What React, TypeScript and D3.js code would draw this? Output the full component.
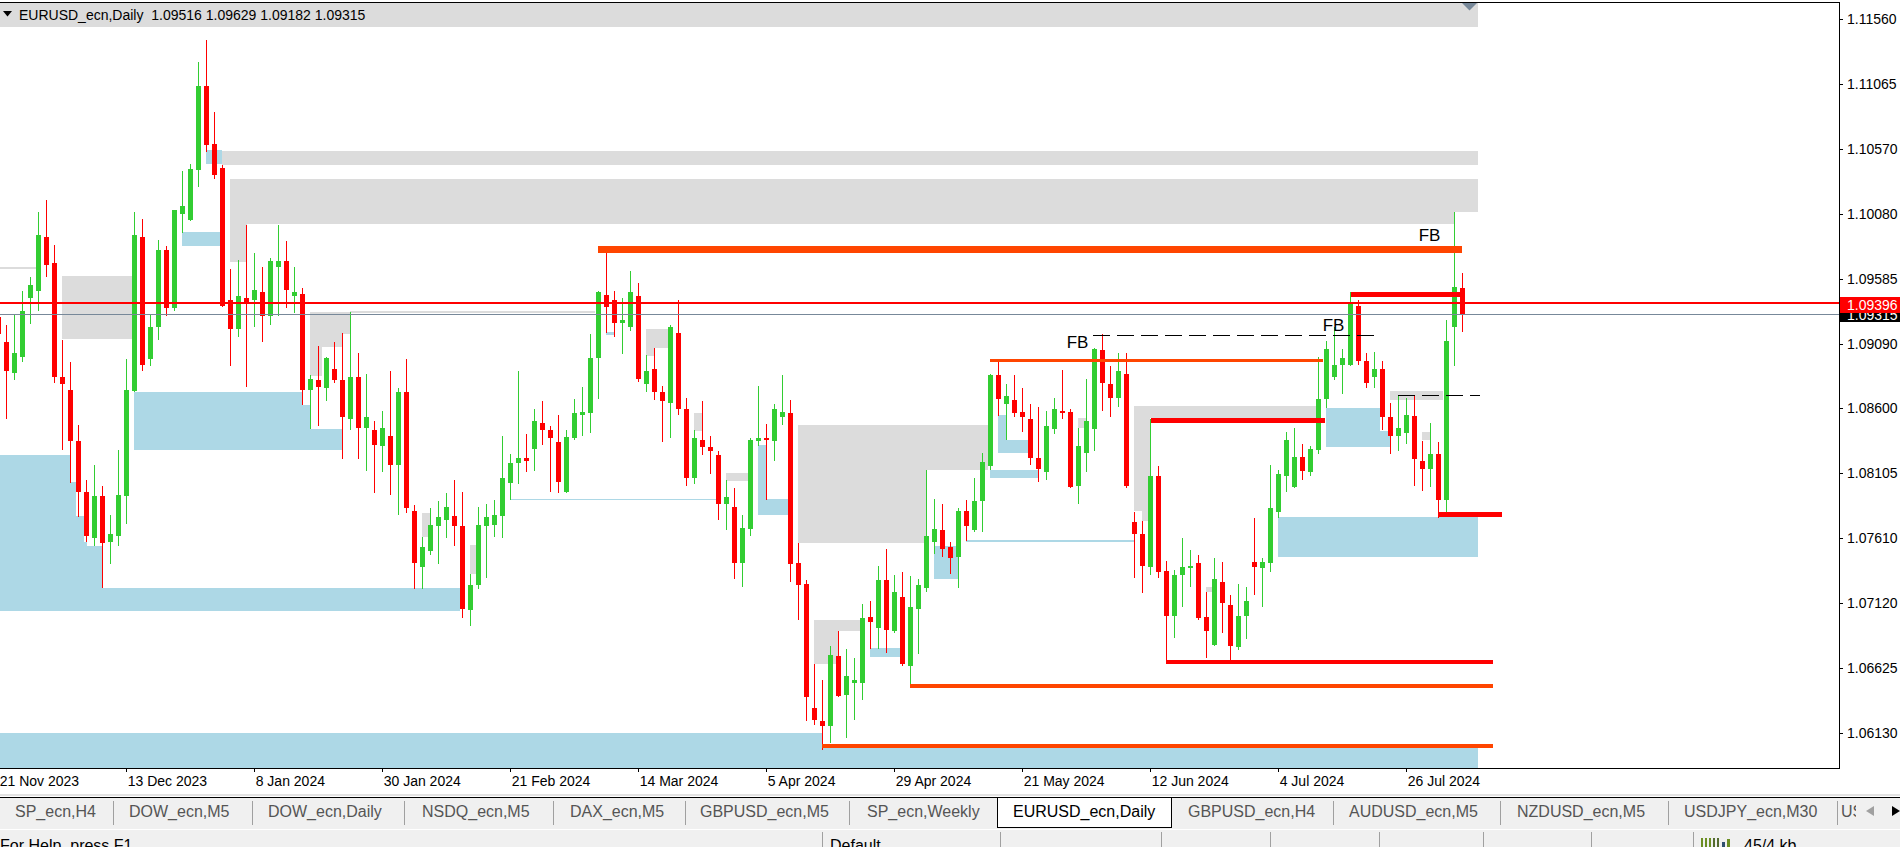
import React from 'react';
import * as d3 from 'd3';

// EURUSD_ecn, Daily. bar -1 = 21 Nov 2023 ... bar 182 = 6 Aug 2024
const FIRST_BAR = -1;

const opens = [
  1.0929, 1.0910, 1.0887, 1.0899, 1.0944, 1.0949, 1.0990, 1.0970, 1.0884, 1.0874,
  1.0835, 1.0796, 1.0761, 1.0793, 1.0758, 1.0763, 1.0793, 1.0873, 1.0990, 1.0897,
  1.0922, 1.0980, 1.0936, 1.1008, 1.1003, 1.1041, 1.1105, 1.1061, 1.1043, 1.0942,
  1.0920, 1.0944, 1.0942, 1.0948, 1.0930, 1.0967, 1.0972, 1.0945, 1.0947, 1.0874,
  1.0881, 1.0875, 1.0890, 1.0881, 1.0852, 1.0884, 1.0845, 1.0843, 1.0831, 1.0839,
  1.0817, 1.0872, 1.0782, 1.0739, 1.0751, 1.0770, 1.0775, 1.0778, 1.0770, 1.0706,
  1.0725, 1.0770, 1.0771, 1.0778, 1.0803, 1.0818, 1.0822, 1.0829, 1.0849, 1.0843,
  1.0834, 1.0796, 1.0837, 1.0855, 1.0856, 1.0898, 1.0946, 1.0942, 1.0925, 1.0922,
  1.0945, 1.0878, 1.0890, 1.0872, 1.0864, 1.0917, 1.0859, 1.0807, 1.0836, 1.0830,
  1.0824, 1.0787, 1.0785, 1.0742, 1.0768, 1.0835, 1.0837, 1.0835, 1.0853, 1.0856,
  1.0742, 1.0726, 1.0632, 1.0622, 1.0618, 1.0671, 1.0642, 1.0651, 1.0651, 1.0701,
  1.0693, 1.0729, 1.0690, 1.0716, 1.0664, 1.0707, 1.0723, 1.0758, 1.0767, 1.0754,
  1.0747, 1.0782, 1.0767, 1.0789, 1.0816, 1.0885, 1.0863, 1.0866, 1.0857, 1.0852,
  1.0822, 1.0811, 1.0844, 1.0858, 1.0857, 1.0801, 1.0826, 1.0844, 1.0904, 1.0878,
  1.0868, 1.0886, 1.0773, 1.0764, 1.0739, 1.0808, 1.0736, 1.0702, 1.0733, 1.0738,
  1.0742, 1.0701, 1.0680, 1.0728, 1.0710, 1.0678, 1.0702, 1.0743, 1.0738, 1.0742,
  1.0781, 1.0808, 1.0800, 1.0823, 1.0811, 1.0828, 1.0867, 1.0884, 1.0893, 1.0893,
  1.0938, 1.0896, 1.0884, 1.0890, 1.0853, 1.0839, 1.0841, 1.0854, 1.0820, 1.0814,
  1.0825, 1.0790, 1.0922, 1.09516,
];
const highs = [
  1.0932, 1.0923, 1.0931, 1.0949, 1.0960, 1.1009, 1.1018, 1.0984, 1.0912, 1.0895,
  1.0847, 1.0805, 1.0817, 1.0801, 1.0779, 1.0828, 1.0897, 1.1009, 1.1004, 1.0931,
  1.0988, 1.0983, 1.1011, 1.1040, 1.1046, 1.1123, 1.1140, 1.1085, 1.1045, 1.0966,
  1.0973, 1.0999, 1.0978, 1.0967, 1.0974, 1.0999, 1.0987, 1.0967, 1.0951, 1.0885,
  1.0907, 1.0899, 1.0910, 1.0917, 1.0933, 1.0902, 1.0886, 1.0850, 1.0858, 1.0888,
  1.0875, 1.0897, 1.0786, 1.0762, 1.0784, 1.0789, 1.0795, 1.0805, 1.0796, 1.0734,
  1.0785, 1.0787, 1.0790, 1.0839, 1.0825, 1.0888, 1.0840, 1.0859, 1.0865, 1.0846,
  1.0855, 1.0843, 1.0867, 1.0876, 1.0916, 1.0949, 1.0981, 1.0949, 1.0944, 1.0964,
  1.0955, 1.0900, 1.0906, 1.0877, 1.0923, 1.0942, 1.0868, 1.0843, 1.0865, 1.0839,
  1.0827, 1.0805, 1.0799, 1.0779, 1.0837, 1.0877, 1.0848, 1.0863, 1.0885, 1.0866,
  1.0757, 1.0729, 1.0665, 1.0653, 1.0679, 1.0690, 1.0677, 1.0670, 1.0711, 1.0713,
  1.0740, 1.0753, 1.0733, 1.0735, 1.0732, 1.0730, 1.0813, 1.0791, 1.0787, 1.0758,
  1.0784, 1.0790, 1.0807, 1.0826, 1.0886, 1.0895, 1.0878, 1.0885, 1.0875, 1.0863,
  1.0861, 1.0858, 1.0868, 1.0889, 1.0859, 1.0845, 1.0882, 1.0906, 1.0916, 1.0892,
  1.0902, 1.0902, 1.0781, 1.0774, 1.0852, 1.0816, 1.0744, 1.0737, 1.0761, 1.0752,
  1.0748, 1.0720, 1.0746, 1.0743, 1.0718, 1.0726, 1.0724, 1.0776, 1.0746, 1.0817,
  1.0813, 1.0842, 1.0845, 1.0833, 1.0831, 1.0899, 1.0911, 1.0922, 1.0905, 1.0948,
  1.0942, 1.0902, 1.0903, 1.0896, 1.0864, 1.0870, 1.0868, 1.0870, 1.0835, 1.0849,
  1.0834, 1.0927, 1.1009, 1.09629,
];
const lows = [
  1.0910, 1.0852, 1.0881, 1.0895, 1.0924, 1.0934, 1.0960, 1.0879, 1.0828, 1.0803,
  1.0777, 1.0758, 1.0755, 1.0723, 1.0741, 1.0755, 1.0772, 1.0872, 1.0888, 1.0892,
  1.0912, 1.0930, 1.0934, 1.0993, 1.1002, 1.1028, 1.1055, 1.1034, 1.0937, 1.0892,
  1.0914, 1.0876, 1.0922, 1.0910, 1.0923, 1.0930, 1.0936, 1.0932, 1.0862, 1.0844,
  1.0846, 1.0865, 1.0879, 1.0821, 1.0843, 1.0821, 1.0812, 1.0795, 1.0811, 1.0794,
  1.0779, 1.0780, 1.0722, 1.0722, 1.0748, 1.0741, 1.0761, 1.0755, 1.0700, 1.0694,
  1.0722, 1.0731, 1.0762, 1.0761, 1.0790, 1.0802, 1.0811, 1.0812, 1.0832, 1.0796,
  1.0795, 1.0795, 1.0836, 1.0839, 1.0841, 1.0867, 1.0917, 1.0914, 1.0901, 1.0919,
  1.0880, 1.0872, 1.0866, 1.0834, 1.0837, 1.0855, 1.0801, 1.0802, 1.0824, 1.0810,
  1.0775, 1.0767, 1.0730, 1.0724, 1.0763, 1.0831, 1.0790, 1.0820, 1.0847, 1.0728,
  1.0699, 1.0622, 1.0619, 1.0600, 1.0605, 1.0640, 1.0609, 1.0623, 1.0638, 1.0677,
  1.0677, 1.0674, 1.0689, 1.0664, 1.0648, 1.0673, 1.0720, 1.0749, 1.0747, 1.0734,
  1.0723, 1.0759, 1.0766, 1.0766, 1.0813, 1.0854, 1.0836, 1.0853, 1.0842, 1.0817,
  1.0804, 1.0805, 1.0840, 1.0852, 1.0799, 1.0787, 1.0811, 1.0827, 1.0858, 1.0853,
  1.0861, 1.0799, 1.0731, 1.0719, 1.0733, 1.0731, 1.0667, 1.0685, 1.0709, 1.0724,
  1.0699, 1.0670, 1.0679, 1.0689, 1.0665, 1.0676, 1.0684, 1.0718, 1.0709, 1.0735,
  1.0776, 1.0796, 1.0799, 1.0805, 1.0808, 1.0825, 1.0860, 1.0881, 1.0871, 1.0892,
  1.0893, 1.0875, 1.0875, 1.0843, 1.0825, 1.0827, 1.0833, 1.0801, 1.0797, 1.0800,
  1.0776, 1.0781, 1.0892, 1.09182,
];
const closes = [
  1.0916, 1.0888, 1.0902, 1.0934, 1.0954, 1.0992, 1.0969, 1.0884, 1.0878, 1.0835,
  1.0796, 1.0763, 1.0793, 1.0757, 1.0764, 1.0794, 1.0874, 1.0992, 1.0893, 1.0922,
  1.0980, 1.0936, 1.1011, 1.1014, 1.1042, 1.1105, 1.1060, 1.1037, 1.0938, 1.0920,
  1.0945, 1.0940, 1.0950, 1.0930, 1.0972, 1.0972, 1.0950, 1.0948, 1.0874, 1.0882,
  1.0876, 1.0898, 1.0881, 1.0853, 1.0884, 1.0845, 1.0853, 1.0832, 1.0845, 1.0817,
  1.0872, 1.0784, 1.0742, 1.0754, 1.0771, 1.0777, 1.0785, 1.0770, 1.0707, 1.0725,
  1.0771, 1.0777, 1.0779, 1.0807, 1.0818, 1.0822, 1.0820, 1.0850, 1.0843, 1.0837,
  1.0804, 1.0838, 1.0856, 1.0857, 1.0898, 1.0948, 1.0937, 1.0925, 1.0927, 1.0948,
  1.0882, 1.0888, 1.0872, 1.0865, 1.0922, 1.0859, 1.0807, 1.0837, 1.0830, 1.0827,
  1.0787, 1.0792, 1.0742, 1.0769, 1.0836, 1.0837, 1.0836, 1.0859, 1.0857, 1.0741,
  1.0725, 1.0640, 1.0623, 1.0618, 1.0672, 1.0641, 1.0656, 1.0653, 1.0700, 1.0697,
  1.0729, 1.0691, 1.0720, 1.0665, 1.0709, 1.0725, 1.0763, 1.0768, 1.0753, 1.0746,
  1.0782, 1.0770, 1.0789, 1.0819, 1.0885, 1.0867, 1.0869, 1.0856, 1.0853, 1.0822,
  1.0814, 1.0846, 1.0859, 1.0856, 1.0800, 1.0831, 1.0850, 1.0905, 1.0879, 1.0868,
  1.0888, 1.0801, 1.0764, 1.0740, 1.0808, 1.0735, 1.0702, 1.0733, 1.0739, 1.0740,
  1.0700, 1.0690, 1.0730, 1.0712, 1.0679, 1.0702, 1.0713, 1.0739, 1.0743, 1.0784,
  1.0810, 1.0836, 1.0823, 1.0812, 1.0829, 1.0867, 1.0905, 1.0893, 1.0898, 1.0939,
  1.0896, 1.0879, 1.0890, 1.0853, 1.0839, 1.0845, 1.0855, 1.0821, 1.0814, 1.0825,
  1.0790, 1.0911, 1.0952, 1.09315,
];

const priceTicks = [1.1156, 1.11065, 1.1057, 1.1008, 1.09585, 1.0909, 1.086, 1.08105, 1.0761, 1.0712, 1.06625, 1.0613];
const timeLabels = ['21 Nov 2023', '13 Dec 2023', '8 Jan 2024', '30 Jan 2024', '21 Feb 2024', '14 Mar 2024',
  '5 Apr 2024', '29 Apr 2024', '21 May 2024', '12 Jun 2024', '4 Jul 2024', '26 Jul 2024'];
const timeLabelBars = [-1, 15, 31, 47, 63, 79, 95, 111, 127, 143, 159, 175];

// supply / demand zones: [fromBar, toBar, priceTop, priceBottom]
const greyZones = [
  [-1.5, 183.9, 1.1175, 1.115], [26.9, 183.9, 1.10556, 1.1045], [27.9, 180.9, 1.10343, 1.10003],
  [180.9, 183.9, 1.10343, 1.10092], [27.9, 30.0, 1.10003, 1.09712], [-1.5, 3.8, 1.09676, 1.09656],
  [6.9, 15.7, 1.09605, 1.09126], [37.9, 42.9, 1.09331, 1.09164], [37.9, 41.9, 1.09164, 1.09065],
  [37.9, 39.4, 1.09065, 1.08844], [42.9, 73.5, 1.09335, 1.09324], [51.9, 52.9, 1.07802, 1.07619],
  [57.9, 58.7, 1.07559, 1.07338], [79.9, 82.7, 1.09202, 1.09058], [79.9, 80.9, 1.09058, 1.08997],
  [85.9, 86.9, 1.08559, 1.08426], [89.9, 92.7, 1.08109, 1.08046], [98.9, 114.9, 1.08471, 1.0757],
  [114.9, 122.7, 1.08471, 1.08129], [100.9, 103.9, 1.06988, 1.06653], [103.9, 106.7, 1.06988, 1.06904],
  [133.9, 135.0, 1.08525, 1.08449], [140.9, 163.8, 1.08616, 1.08525], [140.9, 142.9, 1.08525, 1.07817],
  [141.9, 142.9, 1.07817, 1.07741], [149.9, 150.7, 1.07239, 1.07201], [172.9, 179.5, 1.0873, 1.08662],
  [176.9, 177.9, 1.08418, 1.08357],
];
const blueZones = [
  [24.9, 26.9, 1.1056, 1.10457], [21.9, 26.7, 1.0994, 1.09833], [15.9, 36.9, 1.08723, 1.08281],
  [36.9, 37.9, 1.08624, 1.08281], [37.9, 41.9, 1.08441, 1.08281], [-1.5, 7.9, 1.08243, 1.07056],
  [7.9, 8.7, 1.08038, 1.07056], [8.7, 9.7, 1.07779, 1.07056], [9.7, 10.0, 1.07581, 1.07056],
  [10.0, 11.9, 1.07551, 1.07056], [11.9, 56.7, 1.07232, 1.07056], [74.9, 75.9, 1.09179, 1.09156],
  [63.0, 89.2, 1.07905, 1.07897], [93.9, 94.9, 1.08316, 1.07787], [94.9, 97.7, 1.07909, 1.07787],
  [107.9, 111.7, 1.06775, 1.06707], [115.9, 118.9, 1.07551, 1.073], [119.9, 140.9, 1.07597, 1.07578],
  [122.9, 128.9, 1.08129, 1.08071], [123.9, 124.9, 1.08548, 1.08258], [124.9, 127.7, 1.08357, 1.08258],
  [164.9, 171.7, 1.08601, 1.08304], [171.7, 172.9, 1.08426, 1.08304], [158.9, 183.9, 1.07772, 1.07467],
  [-1.5, 101.9, 1.06128, 1.057], [101.9, 183.9, 1.0601, 1.057],
];
// levels: [fromBar, toBar, price, thickness]
const orangeLevels = [[73.9, 181.9, 1.09805, 7], [122.9, 164.5, 1.08962, 3], [112.9, 185.8, 1.06486, 4.5], [101.9, 185.8, 1.06026, 4]];
const redLevels = [[168.0, 181.9, 1.09464, 5], [143.0, 164.8, 1.08502, 5], [178.9, 186.9, 1.07791, 5], [144.9, 185.8, 1.06669, 4]];
const dashedLevels = [[135.8, 171.3, 1.09153], [173.9, 184.2, 1.087]];
const fbLabels = [[132.5, 1.09058], [164.5, 1.09187], [176.5, 1.09871]];

const askPrice = 1.09396;
const bidPrice = 1.09315;

const tabs = ['SP_ecn,H4', 'DOW_ecn,M5', 'DOW_ecn,Daily', 'NSDQ_ecn,M5', 'DAX_ecn,M5', 'GBPUSD_ecn,M5',
  'SP_ecn,Weekly', 'EURUSD_ecn,Daily', 'GBPUSD_ecn,H4', 'AUDUSD_ecn,M5', 'NZDUSD_ecn,M5', 'USDJPY_ecn,M30', 'USDCHF_ecn,M5'];
const ACTIVE_TAB = 7;
// layout of the terminal tab strip
const tabTextX = [15, 129, 268, 422, 570, 700, 867, 1013, 1188, 1349, 1517, 1684, 1841];
const tabSeps = [112.7, 252, 404, 552.7, 684.8, 848.5, 1333, 1500, 1668, 1837];
const statusSeps = [822, 1000, 1161, 1270, 1379, 1483, 1591, 1693];

const FONT = "'Liberation Sans', Arial, sans-serif";
const PLOT_R = 1839, PLOT_T = 2, PLOT_B = 768;

export default function App() {
  const x = d3.scaleLinear().domain([-1, 182]).range([-1.3, 1462.7]);
  const y = d3.scaleLinear().domain([1.0613, 1.1156]).range([732.7, 19]);
  const fmt = d3.format('.5f');

  const bars = opens.map((o, k) => ({ i: k + FIRST_BAR, o, h: highs[k], l: lows[k], c: closes[k] }));

  const zone = (z: number[], fill: string, key: string) => {
    const x0 = Math.round(x(z[0])), x1 = Math.round(x(z[1]));
    const y0 = Math.round(y(z[2])), y1 = Math.round(y(z[3]));
    return <rect key={key} x={x0} y={y0} width={x1 - x0} height={Math.max(1, y1 - y0)} fill={fill} />;
  };
  const level = (l: number[], fill: string, key: string) => {
    const x0 = Math.round(x(l[0])), x1 = Math.round(x(l[1]));
    return <rect key={key} x={x0} y={y(l[2]) - l[3] / 2} width={x1 - x0} height={l[3]} fill={fill} />;
  };

  const askY = Math.round(y(askPrice)), bidY = Math.round(y(bidPrice));

  return (
    <div>
      <style>{'body{margin:0;background:#fff;}'}</style>
      <svg width={1900} height={847} style={{ display: 'block', fontFamily: FONT }}>
        <defs>
          <clipPath id="plot"><rect x={0} y={PLOT_T} width={PLOT_R} height={PLOT_B - PLOT_T} /></clipPath>
          <clipPath id="tabclip"><rect x={0} y={790} width={1856} height={40} /></clipPath>
        </defs>
        <rect x={0} y={0} width={1900} height={847} fill="#fff" />

        <g clipPath="url(#plot)" shapeRendering="crispEdges">
          {greyZones.map((z, k) => zone(z, '#dcdcdc', 'g' + k))}
          {blueZones.map((z, k) => zone(z, '#add8e6', 'b' + k))}

          {bars.map(b => {
            const cx = Math.floor(x(b.i));
            const up = b.c >= b.o;
            const col = up ? '#32cd32' : '#ff0000';
            const top = Math.round(y(Math.max(b.o, b.c)));
            const bot = Math.round(y(Math.min(b.o, b.c)));
            return (
              <g key={b.i}>
                <rect x={cx} y={Math.round(y(b.h))} width={1} height={Math.max(1, Math.round(y(b.l)) - Math.round(y(b.h)))} fill={col} />
                <rect x={cx - 2} y={top} width={5} height={Math.max(1, bot - top)} fill={col} />
              </g>
            );
          })}

          {orangeLevels.map((l, k) => level(l, '#ff4500', 'o' + k))}
          {redLevels.map((l, k) => level(l, '#ff0000', 'r' + k))}
          {dashedLevels.map((l, k) => (
            <line key={'d' + k} x1={x(l[0])} x2={x(l[1])} y1={Math.round(y(l[2])) + 0.5} y2={Math.round(y(l[2])) + 0.5}
              stroke="#000" strokeWidth={1} strokeDasharray="17,7" />
          ))}
          <rect x={0} y={y(askPrice) - 1} width={PLOT_R} height={2} fill="#ff0000" />
          <rect x={0} y={bidY} width={PLOT_R} height={1} fill="#778899" />
        </g>

        {fbLabels.map((f, k) => (
          <text key={'fb' + k} x={x(f[0])} y={y(f[1])} fontSize={17} fill="#000">FB</text>
        ))}

        {/* chart title */}
        <path d="M3,11 L12,11 L7.5,16.5 Z" fill="#000" />
        <text x={19} y={20} fontSize={14} fill="#000" style={{ whiteSpace: 'pre' }}>
          {'EURUSD_ecn,Daily  ' + [opens[opens.length - 1], highs[highs.length - 1], lows[lows.length - 1], closes[closes.length - 1]].map(fmt).join(' ')}
        </text>
        <path d="M1462,3 L1477,3 L1469.5,10.5 Z" fill="#778899" />

        {/* frame */}
        <g shapeRendering="crispEdges">
          <line x1={0} x2={PLOT_R + 0.5} y1={PLOT_T + 0.5} y2={PLOT_T + 0.5} stroke="#000" />
          <line x1={PLOT_R + 0.5} x2={PLOT_R + 0.5} y1={PLOT_T} y2={PLOT_B + 0.5} stroke="#000" />
          <line x1={0} x2={PLOT_R + 0.5} y1={PLOT_B + 0.5} y2={PLOT_B + 0.5} stroke="#000" />
        </g>

        {/* price axis */}
        <g shapeRendering="crispEdges">
          {priceTicks.map(p => {
            const ty = Math.round(y(p));
            return (
              <g key={p}>
                <line x1={PLOT_R} x2={PLOT_R + 4} y1={ty + 0.5} y2={ty + 0.5} stroke="#000" />
                <text x={1847} y={ty + 5} fontSize={14} fill="#000">{fmt(p)}</text>
              </g>
            );
          })}
          <rect x={PLOT_R + 1} y={bidY - 7} width={61} height={15} fill="#000" />
          <text x={1847} y={bidY + 6} fontSize={14} fill="#fff">{fmt(bidPrice)}</text>
          <rect x={PLOT_R + 1} y={askY - 6} width={61} height={16} fill="#ff0000" />
          <text x={1847} y={askY + 7} fontSize={14} fill="#fff">{fmt(askPrice)}</text>
        </g>

        {/* time axis */}
        {timeLabelBars.map((b, k) => (
          <g key={b}>
            <line x1={Math.floor(x(b)) + 0.5} x2={Math.floor(x(b)) + 0.5} y1={PLOT_B} y2={PLOT_B + 4} stroke="#000" shapeRendering="crispEdges" />
            <text x={x(b) + 1} y={786} fontSize={14} fill="#000">{timeLabels[k]}</text>
          </g>
        ))}

        {/* tab strip */}
        <rect x={0} y={794} width={1900} height={2} fill="#e3e3e3" />
        <rect x={0} y={797} width={1900} height={32} fill="#f0f0f0" />
        <line x1={0} x2={1900} y1={797.5} y2={797.5} stroke="#000" shapeRendering="crispEdges" />
        <path d="M997.5,798 V827.5 H1171.5 V798" fill="#fff" stroke="#000" shapeRendering="crispEdges" />
        {tabSeps.map(s => (
          <line key={s} x1={Math.round(s) + 0.5} x2={Math.round(s) + 0.5} y1={801} y2={825} stroke="#a0a0a0" shapeRendering="crispEdges" />
        ))}
        <g clipPath="url(#tabclip)">
          {tabs.map((t, k) => (
            <text key={t} x={tabTextX[k]} y={817} fontSize={16} fill={k === ACTIVE_TAB ? '#000' : '#555'}>{t}</text>
          ))}
        </g>
        <path d="M1874,806 L1874,816 L1866,811 Z" fill="#a0a0a0" />
        <path d="M1892,806 L1892,816 L1900,811 Z" fill="#000" />

        {/* status bar */}
        <rect x={0} y={829} width={1900} height={18} fill="#f0f0f0" />
        <line x1={0} x2={1900} y1={829.5} y2={829.5} stroke="#fff" shapeRendering="crispEdges" />
        {statusSeps.map(s => (
          <line key={s} x1={s + 0.5} x2={s + 0.5} y1={832} y2={847} stroke="#a0a0a0" shapeRendering="crispEdges" />
        ))}
        <text x={0} y={851} fontSize={16} fill="#000">For Help, press F1</text>
        <text x={830} y={851} fontSize={16} fill="#000">Default</text>
        {[0, 1, 2, 3, 4].map(k => (
          <rect key={k} x={1701 + k * 4} y={838} width={2} height={9} fill={k < 3 ? '#6b8e23' : '#556b2f'} />
        ))}
        <rect x={1722} y={842} width={3} height={5} fill="#2f4f6f" />
        <rect x={1727} y={839} width={3} height={8} fill="#6b8e23" />
        <text x={1744} y={851} fontSize={16} fill="#000">45/4 kb</text>
      </svg>
    </div>
  );
}
